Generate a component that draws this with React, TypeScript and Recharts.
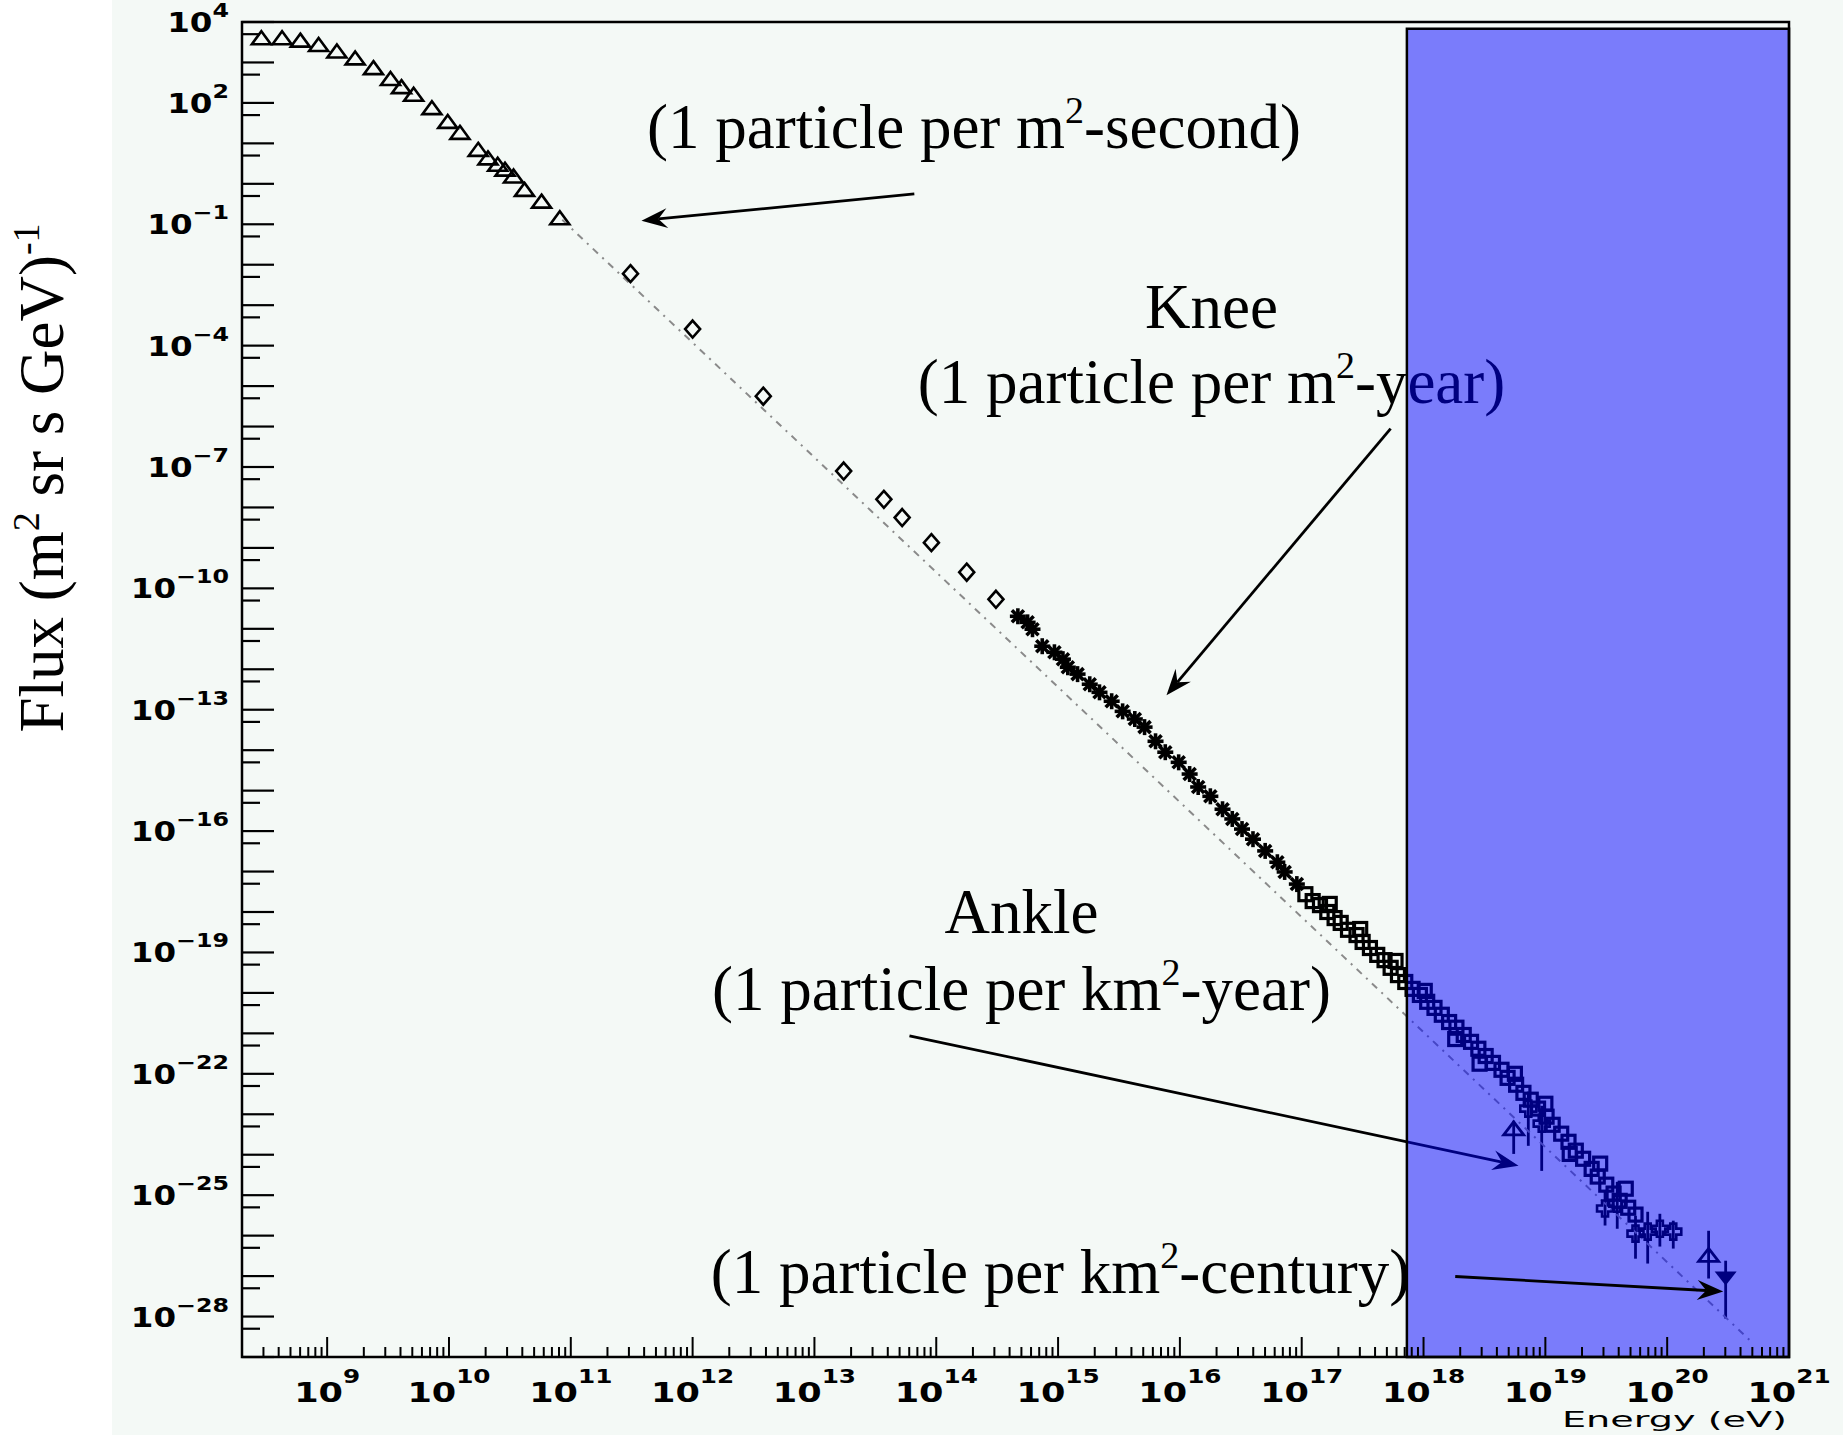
import {
  ScatterChart,
  Scatter,
  XAxis,
  YAxis,
  ErrorBar,
  ReferenceArea,
  ReferenceLine,
  ReferenceDot
} from 'recharts';

// All values are [log10(E / eV), log10(flux)].
const TRIANGLES_LOW_E: [number, number][] = [
  [8.46, 3.6], [8.63, 3.6], [8.78, 3.54], [8.93, 3.43], [9.08, 3.27], [9.23, 3.1],
  [9.38, 2.86], [9.52, 2.59], [9.61, 2.39], [9.71, 2.2], [9.86, 1.87], [9.99, 1.53],
  [10.09, 1.26], [10.24, 0.84], [10.32, 0.63], [10.4, 0.47], [10.46, 0.35], [10.53, 0.18],
  [10.62, -0.15], [10.76, -0.44], [10.91, -0.85],
];

const DIAMONDS: [number, number][] = [
  [11.49, -2.22], [12.0, -3.59], [12.58, -5.25], [13.24, -7.1], [13.57, -7.8],
  [13.72, -8.25], [13.96, -8.87], [14.25, -9.6], [14.49, -10.27],
];

const STARS: [number, number][] = [
  [14.67, -10.69], [14.75, -10.84], [14.79, -11.01], [14.87, -11.43], [14.97, -11.58],
  [15.04, -11.75], [15.08, -11.95], [15.16, -12.12], [15.26, -12.37], [15.34, -12.57],
  [15.44, -12.79], [15.53, -13.04], [15.63, -13.23], [15.71, -13.43], [15.8, -13.78],
  [15.88, -14.05], [15.99, -14.3], [16.08, -14.59], [16.15, -14.91], [16.25, -15.14],
  [16.35, -15.46], [16.43, -15.7], [16.51, -15.95], [16.6, -16.2], [16.7, -16.49],
  [16.8, -16.77], [16.86, -17.01], [16.96, -17.31],
];

const SQUARES: [number, number][] = [
  [17.03, -17.56], [17.09, -17.73], [17.15, -17.83], [17.21, -18.0], [17.23, -17.8],
  [17.27, -18.15], [17.32, -18.27], [17.38, -18.44], [17.45, -18.57], [17.48, -18.42],
  [17.5, -18.74], [17.56, -18.89], [17.62, -19.06], [17.68, -19.19], [17.73, -19.38],
  [17.77, -19.21], [17.79, -19.56], [17.85, -19.73], [17.91, -19.9], [17.97, -20.05],
  [18.01, -19.95], [18.03, -20.22], [18.09, -20.37], [18.15, -20.54], [18.21, -20.72],
  [18.26, -21.14], [18.27, -20.86], [18.33, -21.04], [18.39, -21.21], [18.45, -21.38],
  [18.46, -21.75], [18.51, -21.56], [18.57, -21.73], [18.64, -21.9], [18.69, -22.1],
  [18.75, -22.0], [18.76, -22.27], [18.82, -22.47], [18.88, -22.64], [18.94, -22.86],
  [19.0, -22.74], [19.01, -23.06], [19.06, -23.26], [19.13, -23.48], [19.19, -23.68],
  [19.2, -23.98], [19.25, -23.9], [19.31, -24.1], [19.38, -24.35], [19.43, -24.54],
  [19.45, -24.22], [19.5, -24.74], [19.56, -24.96], [19.61, -25.14], [19.66, -24.84],
  [19.68, -25.31], [19.74, -25.48],
];

// [log10 E, log10 flux, log10 lower end, log10 upper end]
const CROSSES_ERR: [number, number, number, number][] = [
  [18.86, -22.86, -23.78, -22.44],
  [18.97, -23.23, -24.4, -22.79],
  [19.49, -25.33, -25.75, -24.91],
  [19.59, -25.21, -25.83, -24.67],
  [19.74, -25.95, -26.57, -25.51],
  [19.84, -25.9, -26.69, -25.41],
  [19.94, -25.83, -26.27, -25.46],
  [20.05, -25.9, -26.32, -25.63],
];

const OPEN_TRIANGLES_ERR: [number, number, number, number][] = [
  [18.74, -23.36, -23.98, -23.16],
  [20.34, -26.49, -27.06, -25.88],
];

const DOWN_TRIANGLE_ERR: [number, number, number, number][] = [
  [20.48, -27.06, -28.05, -26.62],
];

const FIT_LINE: [number, number][] = [
  [10.93, -0.89], [14.56, -11.19], [20.68, -28.59],
];

const X_DOMAIN: [number, number] = [2e8, 1e21];
const Y_DOMAIN: [number, number] = [1e-29, 1e4];
const X_LABEL_EXPONENTS = [9, 10, 11, 12, 13, 14, 15, 16, 17, 18, 19, 20, 21];
const Y_LABEL_EXPONENTS = [4, 2, -1, -4, -7, -10, -13, -16, -19, -22, -25, -28];

// shaded region
const HIGHLIGHT = { x1: 7.3e17, x2: 1e21, y1: 1e-29, y2: 6.8e3 };

const BG = '#f4f9f6';
const INK = '#000000';
const SERIF = "'Liberation Serif', 'Times New Roman', serif";
const SANS = "'DejaVu Sans', sans-serif";

const pts = (rows: [number, number][]) => rows.map(([e, f]) => ({ x: 10 ** e, y: 10 ** f }));
const ptsErr = (rows: [number, number, number, number][]) =>
  rows.map(([e, f, lo, hi]) => ({
    x: 10 ** e,
    y: 10 ** f,
    err: [10 ** f - 10 ** lo, 10 ** hi - 10 ** f],
  }));

const X_TICKS: number[] = [];
for (let n = 8; n <= 20; n++) {
  for (let k = 1; k <= 9; k++) {
    const v = k * Number(`1e${n}`);
    if (v >= X_DOMAIN[0] && v <= X_DOMAIN[1]) X_TICKS.push(v);
  }
}
X_TICKS.push(1e21);

const Y_TICKS: number[] = [];
for (let n = 4; n >= -29; n--) {
  Y_TICKS.push(Number(`1e${n}`));
  if (n > -29) Y_TICKS.push(5 * Number(`1e${n - 1}`));
}

const decade = (v: number) => {
  const lg = Math.log10(v);
  const e = Math.round(lg);
  return { e, major: Math.abs(lg - e) < 1e-6 };
};

const XTick = (props: any) => {
  const { x, y, payload } = props;
  const { e, major } = decade(payload.value);
  return (
    <g>
      <line x1={x} x2={x} y1={y} y2={y - (major ? 20 : 10)} stroke={INK} strokeWidth={2} />
      {major && X_LABEL_EXPONENTS.includes(e) && (
        <g transform={`translate(${x},${y}) scale(1.3,1)`}>
          <text x={0} y={45} textAnchor="middle" fontFamily={SANS} fontWeight={700} fontSize={27} fill={INK}>
            10<tspan dy={-19} fontSize={19}>{e}</tspan>
          </text>
        </g>
      )}
    </g>
  );
};

const YTick = (props: any) => {
  const { x, y, payload } = props;
  const { e, major } = decade(payload.value);
  return (
    <g>
      <line x1={x} x2={x + (major ? 32 : 18)} y1={y} y2={y} stroke={INK} strokeWidth={2.2} />
      {major && Y_LABEL_EXPONENTS.includes(e) && (
        <g transform={`translate(${x - 13},${y}) scale(1.25,1)`}>
          <text x={0} y={10} textAnchor="end" fontFamily={SANS} fontWeight={700} fontSize={26} fill={INK}>
            10<tspan dy={-15} fontSize={19}>{e < 0 ? `\u2212${-e}` : e}</tspan>
          </text>
        </g>
      )}
    </g>
  );
};

// markers
const triangleUp = (p: any) => (
  <polygon
    points={`${p.cx},${p.cy - 7} ${p.cx + 9.5},${p.cy + 6} ${p.cx - 9.5},${p.cy + 6}`}
    fill="none" stroke={INK} strokeWidth={2.6}
  />
);
const diamond = (p: any) => (
  <polygon
    points={`${p.cx},${p.cy - 8.5} ${p.cx + 7.5},${p.cy} ${p.cx},${p.cy + 8.5} ${p.cx - 7.5},${p.cy}`}
    fill="none" stroke={INK} strokeWidth={2.6}
  />
);
const star = (p: any) => {
  const { cx, cy } = p;
  return (
    <g stroke={INK} strokeWidth={3.6}>
      <line x1={cx - 8} y1={cy} x2={cx + 8} y2={cy} />
      <line x1={cx} y1={cy - 8} x2={cx} y2={cy + 8} />
      <line x1={cx - 6} y1={cy - 6} x2={cx + 6} y2={cy + 6} />
      <line x1={cx - 6} y1={cy + 6} x2={cx + 6} y2={cy - 6} />
    </g>
  );
};
const square = (p: any) => (
  <rect x={p.cx - 6.5} y={p.cy - 6.5} width={13} height={13} fill="none" stroke={INK} strokeWidth={3.2} />
);
const openCross = (p: any) => {
  const { cx, cy } = p;
  const a = 3, b = 8;
  const d = [
    [-a, -b], [a, -b], [a, -a], [b, -a], [b, a], [a, a],
    [a, b], [-a, b], [-a, a], [-b, a], [-b, -a], [-a, -a],
  ].map(([dx, dy]) => `${cx + dx},${cy + dy}`).join(' ');
  return <polygon points={d} fill="none" stroke={INK} strokeWidth={2.6} />;
};
const bigTriangleUp = (p: any) => (
  <polygon
    points={`${p.cx},${p.cy - 7} ${p.cx + 10},${p.cy + 6} ${p.cx - 10},${p.cy + 6}`}
    fill="none" stroke={INK} strokeWidth={2.8}
  />
);
const triangleDownFilled = (p: any) => (
  <polygon
    points={`${p.cx - 11},${p.cy - 7} ${p.cx + 11},${p.cy - 7} ${p.cx},${p.cy + 7}`}
    fill={INK}
  />
);

const arrowShape = (p: any) => {
  const { x1, y1, x2, y2 } = p;
  const dx = x2 - x1;
  const dy = y2 - y1;
  const len = Math.hypot(dx, dy) || 1;
  const ux = dx / len;
  const uy = dy / len;
  const nx = -uy;
  const ny = ux;
  const L = 26;
  const W = 10;
  const N = 17;
  const bx = x2 - L * ux;
  const by = y2 - L * uy;
  const mx = x2 - N * ux;
  const my = y2 - N * uy;
  return (
    <g>
      <line x1={x1} y1={y1} x2={mx} y2={my} stroke={INK} strokeWidth={2.8} />
      <polygon
        points={`${x2},${y2} ${bx + W * nx},${by + W * ny} ${mx},${my} ${bx - W * nx},${by - W * ny}`}
        fill={INK}
      />
    </g>
  );
};

const noteShape = (parts: string[]) => (p: any) => (
  <text x={p.cx} y={p.cy} textAnchor="middle" fontFamily={SERIF} fontSize={63} fill={INK}>
    {parts[0]}
    {parts[1] ? <tspan dy={-25} fontSize={38}>{parts[1]}</tspan> : null}
    {parts[2] ? <tspan dy={25}>{parts[2]}</tspan> : null}
  </text>
);

// annotation anchors: [log10 E, log10 flux] of text centre / baseline
const NOTES_UNDER: { at: [number, number]; parts: string[] }[] = [
  { at: [14.31, 0.89], parts: ['(1 particle per m', '2', '-second)'] },
  { at: [16.26, -3.57], parts: ['Knee'] },
  { at: [16.26, -5.42], parts: ['(1 particle per m', '2', '-year)'] },
  { at: [14.7, -18.52], parts: ['Ankle'] },
  { at: [14.7, -20.43], parts: ['(1 particle per km', '2', '-year)'] },
];
const NOTES_OVER: { at: [number, number]; parts: string[] }[] = [
  { at: [15.02, -27.42], parts: ['(1 particle per km', '2', '-century)'] },
];

// arrows: tail -> head
const ARROWS_UNDER: [number, number][][] = [
  [[13.82, -0.25], [11.58, -0.91]],
  [[17.73, -6.05], [15.89, -12.64]],
  [[13.78, -21.06], [18.78, -24.27]],
];
const ARROWS_OVER: [number, number][][] = [
  [[18.26, -27.01], [20.46, -27.38]],
];

const seg = (a: [number, number][]) => a.map(([e, f]) => ({ x: 10 ** e, y: 10 ** f }));

export default function App() {
  return (
    <div style={{ position: 'absolute', left: 0, top: 0, width: 1843, height: 1435, background: '#ffffff', overflow: 'hidden' }}>
      <div style={{ position: 'absolute', left: 112, top: 0, width: 1731, height: 1435, background: BG }} />
      <div style={{ position: 'absolute', left: 0, top: 0 }}>
        <ScatterChart width={1843} height={1435} margin={{ top: 22, right: 54, bottom: 0, left: 0 }}>
          <XAxis
            dataKey="x"
            type="number"
            scale="log"
            domain={X_DOMAIN}
            allowDataOverflow
            ticks={X_TICKS}
            interval={0}
            tick={XTick}
            tickLine={false}
            axisLine={false}
            tickSize={0}
            tickMargin={0}
            height={78}
          />
          <YAxis
            dataKey="y"
            type="number"
            scale="log"
            domain={Y_DOMAIN}
            allowDataOverflow
            ticks={Y_TICKS}
            interval={0}
            tick={YTick}
            tickLine={false}
            axisLine={false}
            tickSize={0}
            tickMargin={0}
            width={242}
          />

          <Scatter
            data={pts(FIT_LINE)}
            shape={() => <g />}
            line={{ stroke: '#8a8a8a', strokeWidth: 2, strokeDasharray: '7 6 2 6' }}
            lineType="joint"
            isAnimationActive={false}
          />
          <Scatter data={pts(TRIANGLES_LOW_E)} shape={triangleUp} isAnimationActive={false} />
          <Scatter data={pts(DIAMONDS)} shape={diamond} isAnimationActive={false} />
          <Scatter data={pts(STARS)} shape={star} isAnimationActive={false} />
          <Scatter data={pts(SQUARES)} shape={square} isAnimationActive={false} />
          <Scatter data={ptsErr(CROSSES_ERR)} shape={openCross} isAnimationActive={false}>
            <ErrorBar dataKey="err" direction="y" width={0} stroke={INK} strokeWidth={2.8} />
          </Scatter>
          <Scatter data={ptsErr(OPEN_TRIANGLES_ERR)} shape={bigTriangleUp} isAnimationActive={false}>
            <ErrorBar dataKey="err" direction="y" width={0} stroke={INK} strokeWidth={2.8} />
          </Scatter>
          <Scatter data={ptsErr(DOWN_TRIANGLE_ERR)} shape={triangleDownFilled} isAnimationActive={false}>
            <ErrorBar dataKey="err" direction="y" width={0} stroke={INK} strokeWidth={2.8} />
          </Scatter>

          {ARROWS_UNDER.map((a, i) => (
            <ReferenceLine key={`au${i}`} segment={seg(a)} shape={arrowShape} zIndex={700} />
          ))}
          {NOTES_UNDER.map((n, i) => (
            <ReferenceDot key={`nu${i}`} x={10 ** n.at[0]} y={10 ** n.at[1]} r={0} shape={noteShape(n.parts)} zIndex={700} />
          ))}

          <ReferenceArea
            x1={HIGHLIGHT.x1}
            x2={HIGHLIGHT.x2}
            y1={HIGHLIGHT.y1}
            y2={HIGHLIGHT.y2}
            fill="#0000ff"
            fillOpacity={0.5}
            stroke={INK}
            strokeWidth={2.5}
            zIndex={1500}
          />

          {ARROWS_OVER.map((a, i) => (
            <ReferenceLine key={`ao${i}`} segment={seg(a)} shape={arrowShape} zIndex={1600} />
          ))}
          {NOTES_OVER.map((n, i) => (
            <ReferenceDot key={`no${i}`} x={10 ** n.at[0]} y={10 ** n.at[1]} r={0} shape={noteShape(n.parts)} zIndex={1600} />
          ))}

          <ReferenceArea
            x1={X_DOMAIN[0]}
            x2={X_DOMAIN[1]}
            y1={Y_DOMAIN[0]}
            y2={Y_DOMAIN[1]}
            fill="none"
            fillOpacity={0}
            stroke={INK}
            strokeWidth={2.5}
            zIndex={1700}
          />
        </ScatterChart>
      </div>
      <svg width={1843} height={1435} style={{ position: 'absolute', left: 0, top: 0, pointerEvents: 'none' }}>
        <text transform="translate(63,478) rotate(-90)" textAnchor="middle" fontFamily={SERIF} fontSize={63} fill={INK}>
          Flux (m<tspan dy={-24} fontSize={38}>2</tspan>
          <tspan dy={24}> sr s GeV)</tspan>
          <tspan dy={-24} fontSize={38}>-1</tspan>
        </text>
        <text x={1562} y={1427} textLength={225} lengthAdjust="spacingAndGlyphs" fontFamily={SANS} fontSize={22} fill={INK}>
          Energy (eV)
        </text>
      </svg>
    </div>
  );
}
